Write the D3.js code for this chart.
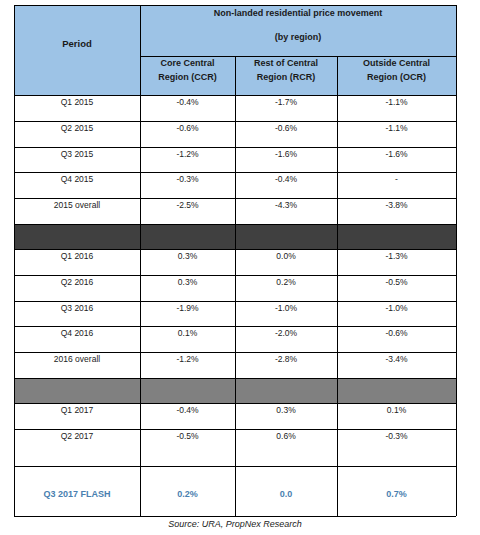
<!DOCTYPE html>
<html><head><meta charset="utf-8">
<script src="https://cdn.jsdelivr.net/npm/d3@7"></script>
<style>body{margin:0;background:#fff}text{font-family:"Liberation Sans",Arial,sans-serif}</style>
</head><body><svg></svg>
<script>
var periods = ["Q1 2015","Q2 2015","Q3 2015","Q4 2015","2015 overall","",
  "Q1 2016","Q2 2016","Q3 2016","Q4 2016","2016 overall","",
  "Q1 2017","Q2 2017","Q3 2017 FLASH"];
var ccr = ["-0.4%","-0.6%","-1.2%","-0.3%","-2.5%","","0.3%","0.3%","-1.9%","0.1%","-1.2%","","-0.4%","-0.5%","0.2%"];
var rcr = ["-1.7%","-0.6%","-1.6%","-0.4%","-4.3%","","0.0%","0.2%","-1.0%","-2.0%","-2.8%","","0.3%","0.6%","0.0"];
var ocr = ["-1.1%","-1.1%","-1.6%","-","-3.8%","","-1.3%","-0.5%","-1.0%","-0.6%","-3.4%","","0.1%","-0.3%","0.7%"];
var rowKinds = ["d","d","d","d","d","dark","d","d","d","d","d","grey","d","d","flash"];
var rowEdges = [95,121,147,172,198,224,249,275,301,326,352,378,403,429,466,516];
var colEdges = [14,140,235,337,456];
var subHeads = [["Core Central","Region (CCR)"],["Rest of Central","Region (RCR)"],["Outside Central","Region (OCR)"]];

var svg = d3.select("svg").attr("width",480).attr("height",535);
var fill = {d:"#fff",dark:"#404040",grey:"#808080",flash:"#fff"};

// header
svg.append("rect").attr("x",14).attr("y",5).attr("width",442).attr("height",90).attr("fill","#9dc3e6");
svg.append("text").attr("x",77).attr("y",47).attr("text-anchor","middle").attr("font-size",9.5).attr("font-weight","bold").attr("fill","#1a1a1a").text("Period");
svg.append("text").attr("x",298).attr("y",16).attr("text-anchor","middle").attr("font-size",9).attr("font-weight","bold").attr("fill","#1a1a1a").text("Non-landed residential price movement");
svg.append("text").attr("x",298).attr("y",40).attr("text-anchor","middle").attr("font-size",9).attr("font-weight","bold").attr("fill","#1a1a1a").text("(by region)");
subHeads.forEach(function(h,i){
  var cx=(colEdges[i+1]+colEdges[i+2])/2;
  h.forEach(function(t,j){
    svg.append("text").attr("x",cx).attr("y",66+j*14).attr("text-anchor","middle").attr("font-size",9).attr("font-weight","bold").attr("fill","#1a1a1a").text(t);
  });
});

// rows
rowKinds.forEach(function(k,i){
  svg.append("rect").attr("x",14).attr("y",rowEdges[i]).attr("width",442).attr("height",rowEdges[i+1]-rowEdges[i]).attr("fill",fill[k]);
  if(k=="dark"||k=="grey") return;
  var vals=[periods[i],ccr[i],rcr[i],ocr[i]];
  var ty = k=="flash" ? rowEdges[i]+31 : rowEdges[i]+10;
  vals.forEach(function(v,c){
    svg.append("text").attr("x",(colEdges[c]+colEdges[c+1])/2).attr("y",ty)
      .attr("text-anchor","middle").attr("font-size",k=="flash"?9:8.5)
      .attr("font-weight",k=="flash"?"bold":"normal")
      .attr("fill",k=="flash"?"#4a7fb0":"#222").text(v);
  });
});

// grid lines
var g=svg.append("g").attr("stroke","#000").attr("stroke-width",1);
rowEdges.forEach(function(y){g.append("line").attr("x1",14).attr("x2",456).attr("y1",y+0.5).attr("y2",y+0.5);});
g.append("line").attr("x1",14).attr("x2",456).attr("y1",5.5).attr("y2",5.5);
g.append("line").attr("x1",140).attr("x2",456).attr("y1",56.5).attr("y2",56.5);
colEdges.forEach(function(x,i){
  g.append("line").attr("x1",x+0.5).attr("x2",x+0.5).attr("y1",(i==2||i==3)?56:5).attr("y2",516);
});

svg.append("text").attr("x",235).attr("y",527).attr("text-anchor","middle").attr("font-size",9).attr("font-style","italic").attr("fill","#222").text("Source: URA, PropNex Research");
</script></body></html>
